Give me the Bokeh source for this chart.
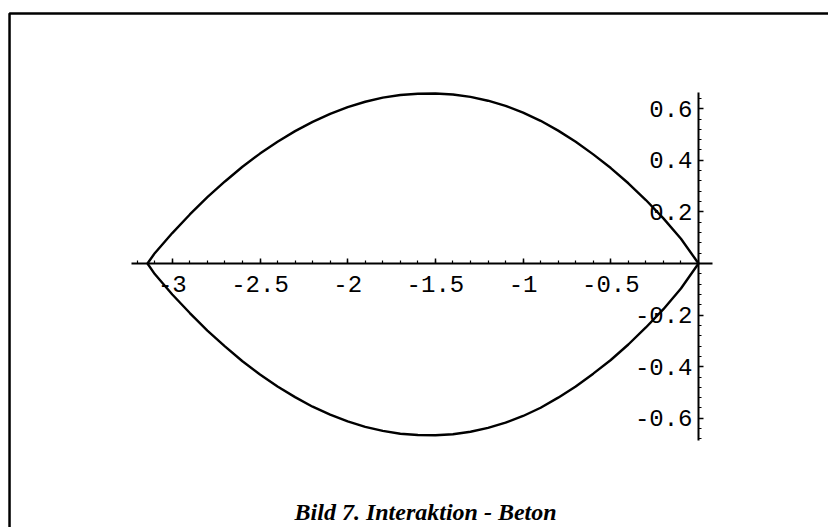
import numpy as np
from bokeh.plotting import figure
from bokeh.models import LinearAxis, FixedTicker, Range1d, BoxAnnotation, Label
from bokeh.embed import file_html
from bokeh.resources import INLINE

# Interaction curve (upper and lower branch) sampled along the x axis
x_vals = [-3.1416, -3.1, -3.0, -2.9, -2.8, -2.7, -2.6, -2.5, -2.4, -2.3, -2.2,
          -2.1, -2.0, -1.9, -1.8, -1.7, -1.6, -1.5, -1.4, -1.3, -1.2, -1.1,
          -1.0, -0.9, -0.8, -0.7, -0.6, -0.5, -0.4, -0.3, -0.2, -0.1, 0.0]
upper_vals = [0.0, 0.040, 0.118, 0.190, 0.257, 0.318, 0.375, 0.426, 0.472, 0.513, 0.549,
              0.580, 0.606, 0.627, 0.643, 0.653, 0.658, 0.659, 0.655, 0.646, 0.631, 0.611,
              0.585, 0.553, 0.515, 0.472, 0.423, 0.370, 0.311, 0.246, 0.175, 0.096, 0.0]
lower_vals = [0.0, -0.041, -0.120, -0.192, -0.260, -0.321, -0.379, -0.430, -0.477, -0.518, -0.555,
              -0.586, -0.612, -0.633, -0.649, -0.660, -0.665, -0.666, -0.662, -0.652, -0.637, -0.617,
              -0.591, -0.559, -0.520, -0.477, -0.427, -0.374, -0.314, -0.248, -0.177, -0.097, 0.0]

x_major = [-3, -2.5, -2, -1.5, -1, -0.5]
x_labels = ["-3", "-2.5", "-2", "-1.5", "-1", "-0.5"]
y_major = [-0.6, -0.4, -0.2, 0.2, 0.4, 0.6]
y_labels = ["-0.6", "-0.4", "-0.2", "0.2", "0.4", "0.6"]
caption = "Bild 7. Interaktion - Beton"

x_minor = [round(v, 2) for v in np.arange(-3.2, 0.001, 0.1)]
y_minor = [round(v, 2) for v in np.arange(-0.68, 0.641, 0.04)]

p = figure(width=828, height=527,
           x_range=Range1d(-3.9795, 0.7412), y_range=Range1d(-1.0233, 1.0194),
           output_backend="svg", toolbar_location=None,
           x_axis_type=None, y_axis_type=None, min_border=0)
p.outline_line_color = None
p.background_fill_color = "white"
p.border_fill_color = "white"
p.grid.visible = False

tick_font = "Liberation Mono"

xaxis = LinearAxis(
    fixed_location=0, bounds=(-3.233, 0.08),
    ticker=FixedTicker(ticks=x_major, minor_ticks=x_minor),
    major_label_overrides={v: s for v, s in zip(x_major, x_labels)},
    axis_line_width=2, axis_line_color="black",
    major_tick_in=5, major_tick_out=0, minor_tick_in=3, minor_tick_out=0,
    major_tick_line_width=1.5, minor_tick_line_width=1.2,
    major_label_standoff=13,
    major_label_text_font=tick_font, major_label_text_font_size="24px",
    major_label_text_color="black",
)
p.add_layout(xaxis, "below")

yaxis = LinearAxis(
    fixed_location=0, bounds=(-0.686, 0.663),
    ticker=FixedTicker(ticks=y_major, minor_ticks=y_minor),
    major_label_overrides={v: s for v, s in zip(y_major, y_labels)},
    axis_line_width=2, axis_line_color="black",
    major_tick_in=5, major_tick_out=0, minor_tick_in=3, minor_tick_out=0,
    major_tick_line_width=1.5, minor_tick_line_width=1.2,
    major_label_standoff=6, major_label_orientation="horizontal",
    major_label_text_font=tick_font, major_label_text_font_size="24px",
    major_label_text_color="black",
)
p.add_layout(yaxis, "left")

p.line(x_vals, upper_vals, line_color="black", line_width=2.4)
p.line(x_vals, lower_vals, line_color="black", line_width=2.4)

# open frame: top and left edge only
frame = BoxAnnotation(left=-3.928, right=3.0, top=0.969, bottom=-3.0,
                      fill_color=None, fill_alpha=0,
                      line_color="black", line_alpha=1.0, line_width=2.5)
p.add_layout(frame)

p.add_layout(Label(x=-1.556, y=-0.965, text=caption,
                   text_font="Liberation Serif", text_font_style="bold italic",
                   text_font_size="24px", text_color="black",
                   text_align="center", text_baseline="middle"))

open("out.html", "w").write(file_html(p, INLINE))
